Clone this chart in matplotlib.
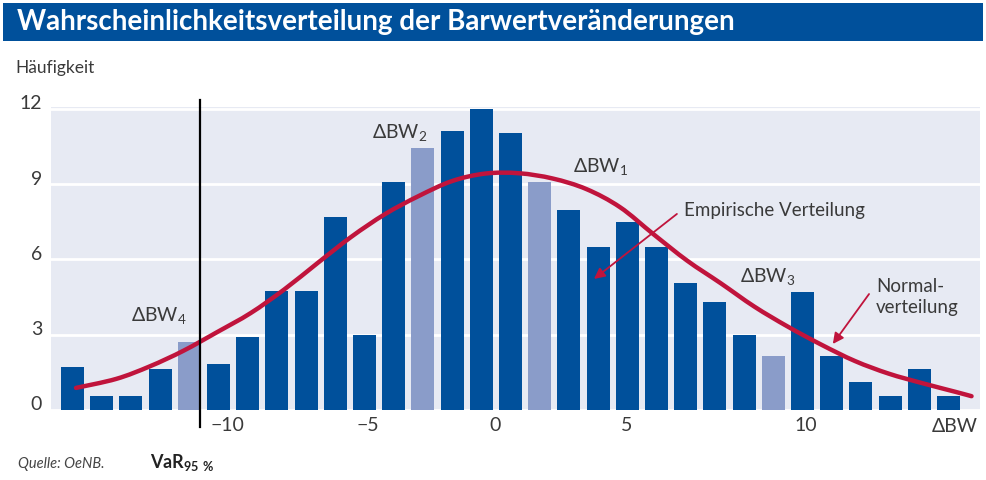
import matplotlib
matplotlib.use("Agg")
import matplotlib.pyplot as plt
from matplotlib.patches import Rectangle, PathPatch
from matplotlib.path import Path

plt.rcParams["font.family"] = ["Lato", "DejaVu Sans"]
plt.rcParams["mathtext.fontset"] = "custom"
plt.rcParams["mathtext.rm"] = "Lato"

# ---- data -------------------------------------------------------------
# frequency per ΔBW class (bins ordered left to right)
frequencies = [1.7, 0.55, 0.55, 1.65, 2.7, 1.85, 2.9, 4.75, 4.75, 7.7, 3.0,
               9.1, 10.45, 11.1, 12.0, 11.05, 9.1, 7.95, 6.5, 7.5, 6.5, 5.05,
               4.3, 3.0, 2.15, 4.7, 2.15, 1.1, 0.55, 1.65, 0.55]
# bins belonging to the scenarios ΔBW1..ΔBW4 (shown in light blue)
scenario_bins = [4, 12, 16, 24]

# fitted normal distribution, sampled along the bin axis
normal_x = [0.12, 1.5, 2.65, 3.8, 4.95, 6.1, 7.25, 8.4, 9.55, 10.7, 11.85,
            13.0, 14.15, 15.3, 16.45, 17.6, 18.75, 19.9, 21.05, 22.2, 23.35,
            24.5, 25.65, 26.8, 27.95, 29.1, 30.25, 30.79]
normal_y = [0.88, 1.24, 1.74, 2.36, 3.1, 3.86, 4.8, 5.86, 6.9, 7.8, 8.52,
            9.12, 9.42, 9.43, 9.22, 8.8, 8.08, 7.0, 5.95, 5.05, 4.12,
            3.32, 2.6, 1.95, 1.45, 1.07, 0.72, 0.55]

x_tick_pos = [5.29, 10.12, 14.47, 18.99, 25.12]
x_tick_labels = ["\u221210", "\u22125", "0", "5", "10"]
y_ticks = [0, 3, 6, 9, 12]
var_position = 4.37

# ---- style ------------------------------------------------------------
DARK = "#00509b"
LIGHT = "#8a9cc9"
BG = "#e7eaf3"
RED = "#c0143c"
TXT = "#3a3a3a"

W, H = 986, 481
fig = plt.figure(figsize=(W / 100, H / 100), dpi=100)


def fx(px):
    return px / W


def fy(py):
    return 1 - py / H


def smooth_path(xs, ys):
    """Cubic Bezier path passing through every (x, y) sample."""
    pts = list(zip(xs, ys))
    ext = [pts[0]] + pts + [pts[-1]]
    verts = [pts[0]]
    codes = [Path.MOVETO]
    for i in range(1, len(ext) - 2):
        p0, p1, p2, p3 = ext[i - 1], ext[i], ext[i + 1], ext[i + 2]
        c1 = (p1[0] + (p2[0] - p0[0]) / 6, p1[1] + (p2[1] - p0[1]) / 6)
        c2 = (p2[0] - (p3[0] - p1[0]) / 6, p2[1] - (p3[1] - p1[1]) / 6)
        verts += [c1, c2, p2]
        codes += [Path.CURVE4] * 3
    return Path(verts, codes)


# title band
fig.add_artist(Rectangle((fx(3), fy(42)), fx(980), 38 / H, transform=fig.transFigure,
                         facecolor=DARK, edgecolor="none"))
fig.text(fx(17), fy(22), "Wahrscheinlichkeitsverteilung der Barwertveränderungen",
         color="white", fontsize=20, fontweight="bold", va="center", ha="left")

ax = fig.add_axes([fx(51), fy(411), fx(980) - fx(51), (411 - 108) / H])
ax.set_facecolor(BG)
for s in ax.spines.values():
    s.set_visible(False)

xs = list(range(len(frequencies)))
colors = [LIGHT if i in scenario_bins else DARK for i in xs]
ax.bar(xs, frequencies, width=0.79, color=colors, zorder=2)

ax.set_xlim(-0.736, 31.08)
ax.set_ylim(0, 12.07)
ax.set_yticks(y_ticks)
ax.set_xticks([])
ax.tick_params(length=0, labelleft=False)
ax.yaxis.grid(True, color="white", linewidth=2)
ax.set_axisbelow(True)

ax.add_patch(PathPatch(smooth_path(normal_x, normal_y), fill=False, edgecolor=RED,
                       linewidth=3.2, capstyle="round", zorder=3))

# VaR marker line, extending beyond the plotting area
ax.axvline(var_position, ymin=-17 / 303, ymax=310 / 303, color="black",
           linewidth=1.6, clip_on=False, zorder=4)

# axis labels
for v in y_ticks:
    ax.annotate(str(v), xy=(0, v), xycoords=("axes fraction", "data"),
                xytext=(-9, 6), textcoords="offset pixels", ha="right", va="center",
                fontsize=14, color=TXT)
for p, lab in zip(x_tick_pos, x_tick_labels):
    ax.annotate(lab, xy=(p, 0), xycoords=("data", "axes fraction"),
                xytext=(0, -15), textcoords="offset pixels", ha="center", va="center",
                fontsize=14, color=TXT)
fig.text(fx(955), fy(427), "ΔBW", ha="center", va="center", fontsize=14, color=TXT)
fig.text(fx(15), fy(68), "Häufigkeit", ha="left", va="center", fontsize=12.5, color=TXT)

# scenario labels
scen = [("1", 18.10, 9.49), ("2", 11.22, 10.84), ("3", 23.82, 5.10), ("4", 2.96, 3.54)]
for sub, x, y in scen:
    ax.text(x, y, "ΔBW$_\\mathregular{%s}$" % sub, ha="center", va="baseline",
            fontsize=14, color=TXT, zorder=5)

# annotations with arrows
arrow = dict(arrowstyle="-|>", color=RED, lw=1.3, mutation_scale=16,
             shrinkA=0, shrinkB=0)
ax.annotate("", xy=(17.86, 5.22), xytext=(20.70, 7.81), arrowprops=arrow, zorder=5)
ax.text(20.94, 7.77, "Empirische Verteilung", ha="left", va="baseline",
        fontsize=13.5, color=TXT, zorder=5)
ax.annotate("", xy=(26.04, 2.63), xytext=(27.28, 4.62), arrowprops=arrow, zorder=5)
ax.text(27.52, 4.74, "Normal-", ha="left", va="baseline",
        fontsize=13.5, color=TXT, zorder=5)
ax.text(27.52, 3.90, "verteilung", ha="left", va="baseline",
        fontsize=13.5, color=TXT, zorder=5)

# footer
fig.text(fx(18), fy(464), "Quelle: OeNB.", ha="left", va="center", fontsize=10.5,
         style="italic", color="#444444")
fig.text(fx(150), fy(468), "VaR$_\\mathregular{95\\ \\%}$", ha="left", va="baseline",
         fontsize=13, fontweight="bold", color="#222222")

fig.savefig("out.png", dpi=100)
